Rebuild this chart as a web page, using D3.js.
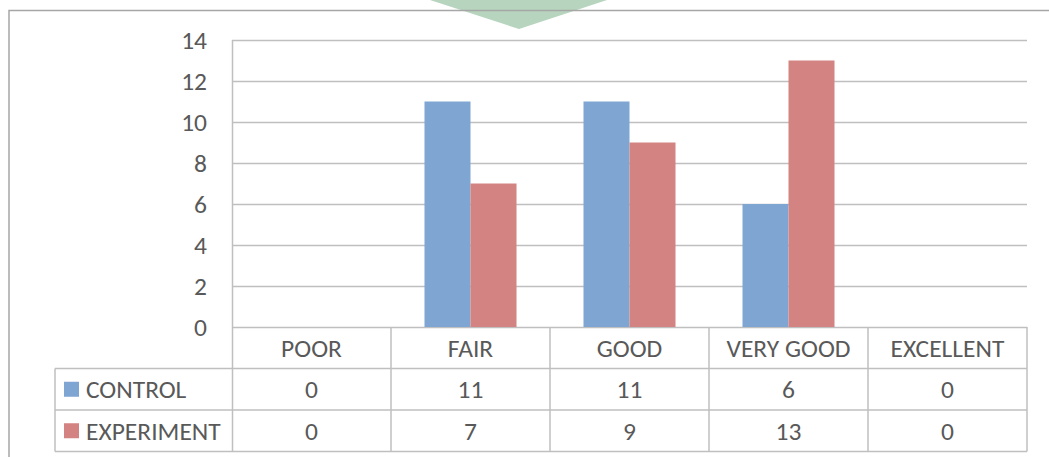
<!DOCTYPE html>
<html>
<head>
<meta charset="utf-8">
<script src="https://cdn.jsdelivr.net/npm/d3@7"></script>
<style>
  body { margin: 0; background: #fff; }
  svg text { font-family: Carlito, Calibri, Lato, sans-serif; fill: #595959; }
</style>
</head>
<body>
<svg id="chart" width="1049" height="457"></svg>
<script>
// data
const categories = ["POOR", "FAIR", "GOOD", "VERY GOOD", "EXCELLENT"];
const seriesNames = ["CONTROL", "EXPERIMENT"];
const control = [0, 11, 11, 6, 0];
const experiment = [0, 7, 9, 13, 0];
const yTicks = [0, 2, 4, 6, 8, 10, 12, 14];
const seriesColors = ["#7fa5d2", "#d38381"];

const svg = d3.select("#chart");
const plot = {left: 232, right: 1027, top: 40, bottom: 327};
const rowH = 41.5;
const tableLeft = 55;
const gridColor = "#bfbfbf";
const fs = 25.5;

// watermark triangle at the top
svg.append("path")
  .attr("d", "M430,0 L607,0 L519,29 Z")
  .attr("fill", "#a9ccb3")
  .attr("opacity", 0.85);

// outer frame (top + left only, the rest is cropped)
svg.append("path")
  .attr("d", "M9,457 L9,10.5 L1049,10.5")
  .attr("fill", "none")
  .attr("stroke", "#a6a6a6")
  .attr("stroke-width", 1.5);

const x = d3.scaleBand().domain(categories).range([plot.left, plot.right]);
const xInner = d3.scaleBand().domain(seriesNames).range([0, x.bandwidth()]).paddingOuter(0.728);
const y = d3.scaleLinear().domain([0, 14]).range([plot.bottom, plot.top]);

// gridlines
svg.append("g").selectAll("line").data(yTicks).join("line")
  .attr("x1", plot.left).attr("x2", plot.right)
  .attr("y1", d => Math.round(y(d)) + 0.5).attr("y2", d => Math.round(y(d)) + 0.5)
  .attr("stroke", gridColor).attr("stroke-width", 1.5);

// bars
const rows = categories.map((c, i) => ({cat: c, vals: [control[i], experiment[i]]}));
svg.append("g").selectAll("g").data(rows).join("g")
  .attr("transform", d => `translate(${x(d.cat)},0)`)
  .selectAll("rect").data(d => d.vals.map((v, j) => ({s: seriesNames[j], v: v, j: j}))).join("rect")
  .attr("x", d => xInner(d.s))
  .attr("width", xInner.bandwidth())
  .attr("y", d => y(d.v))
  .attr("height", d => y(0) - y(d.v))
  .attr("fill", d => seriesColors[d.j]);

// y axis labels
const yAxis = d3.axisLeft(y).tickValues(yTicks).tickSize(0).tickPadding(0);
const yg = svg.append("g").attr("transform", `translate(${plot.left - 25},0)`).call(yAxis);
yg.select(".domain").remove();
yg.selectAll("text").attr("font-size", fs).attr("font-family", null).attr("fill", "#595959");

// left plot edge line down through the table
svg.append("line")
  .attr("x1", plot.left + 0.5).attr("x2", plot.left + 0.5)
  .attr("y1", plot.top).attr("y2", plot.bottom + 3 * rowH)
  .attr("stroke", gridColor).attr("stroke-width", 1.5);

// data table
const tbl = svg.append("g");
const tableBottom = plot.bottom + 3 * rowH;
// horizontal rules
[1, 2, 3].forEach(r => {
  tbl.append("line")
    .attr("x1", tableLeft).attr("x2", plot.right)
    .attr("y1", plot.bottom + r * rowH).attr("y2", plot.bottom + r * rowH)
    .attr("stroke", gridColor).attr("stroke-width", 1.5);
});
// verticals between categories
categories.forEach(c => {
  tbl.append("line")
    .attr("x1", x(c) + x.bandwidth()).attr("x2", x(c) + x.bandwidth())
    .attr("y1", plot.bottom).attr("y2", tableBottom)
    .attr("stroke", gridColor).attr("stroke-width", 1.5);
});
tbl.append("line")
  .attr("x1", tableLeft).attr("x2", tableLeft)
  .attr("y1", plot.bottom + rowH).attr("y2", tableBottom)
  .attr("stroke", gridColor).attr("stroke-width", 1.5);

// category header
tbl.selectAll("text.cat").data(categories).join("text")
  .attr("class", "cat")
  .attr("x", d => x(d) + x.bandwidth() / 2)
  .attr("y", plot.bottom + rowH / 2)
  .attr("dy", "0.35em")
  .attr("text-anchor", "middle")
  .attr("font-size", fs)
  .text(d => d);

// series rows
[control, experiment].forEach((vals, j) => {
  const cy = plot.bottom + (j + 1.5) * rowH;
  tbl.append("rect")
    .attr("x", 64).attr("y", cy - 7.5)
    .attr("width", 15).attr("height", 15)
    .attr("fill", seriesColors[j]);
  tbl.append("text")
    .attr("x", 86).attr("y", cy).attr("dy", "0.35em")
    .attr("font-size", fs)
    .text(seriesNames[j]);
  tbl.selectAll("text.v" + j).data(vals).join("text")
    .attr("class", "v" + j)
    .attr("x", (d, i) => x(categories[i]) + x.bandwidth() / 2)
    .attr("y", cy).attr("dy", "0.35em")
    .attr("text-anchor", "middle")
    .attr("font-size", fs)
    .text(d => d);
});
</script>
</body>
</html>
